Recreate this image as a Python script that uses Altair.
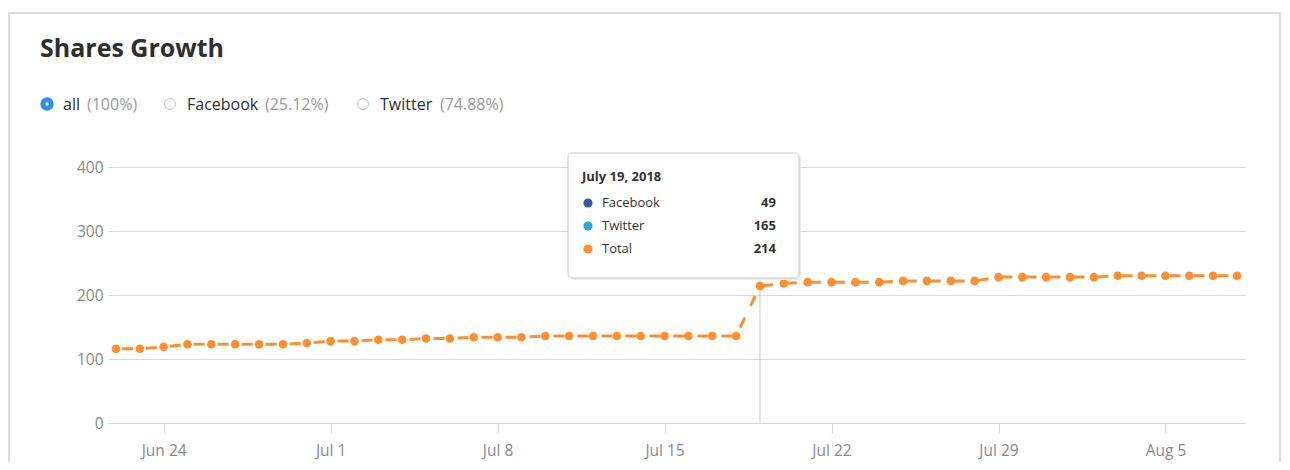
import altair as alt
import pandas as pd

# ---------------- data ----------------
start_date = "2018-06-22"
end_date = "2018-08-08"
total_shares = [116, 116, 119, 123, 123, 123, 123, 123, 125, 128, 128, 130, 130, 132, 132, 134, 134, 134,
                136, 136, 136, 136, 136, 136, 136, 136, 136,
                214, 218, 220, 220, 220, 220, 222, 222, 222, 222,
                228, 228, 228, 228, 228, 230, 230, 230, 230, 230, 230]
tick_dates = ["2018-06-24", "2018-07-01", "2018-07-08", "2018-07-15",
              "2018-07-22", "2018-07-29", "2018-08-05"]
y_ticks = [0, 100, 200, 300, 400]

hover_date = "2018-07-19"
tip_series = ["Facebook", "Twitter", "Total"]
tip_values = [49, 165, 214]
tip_colors = ["#3b5998", "#2aa7e0", "#ff8f2e"]

legend_items = ["all", "Facebook", "Twitter"]
legend_pcts = ["(100%)", "(25.12%)", "(74.88%)"]
title_text = "Shares Growth"

# ---------------- style ----------------
ORANGE = "#ff8f2e"
FONT = "Open Sans"
W, H = 1137, 256
PAD = {"left": 100, "top": 159, "right": 37, "bottom": 39}

dates = [d.strftime("%Y-%m-%dT00:00:00") for d in pd.date_range(start_date, end_date, freq="D")]
df = pd.DataFrame({"date": dates, "total": total_shares})


def dt(s, h=0):
    y, m, d = (int(p) for p in s[:10].split("-"))
    return alt.DateTime(year=y, month=m, date=d, hours=h)


x_scale = alt.Scale(domain=[dt("2018-06-21", 16), dt("2018-08-08", 8)], nice=False)
x_axis = alt.Axis(values=[dt(s) for s in tick_dates], format="%b %-d", title=None,
                  grid=False, domainColor="#d6d6d6", tickColor="#d6d6d6", tickSize=10,
                  labelFont=FONT, labelFontSize=15.5, labelColor="#8a8a8a", labelPadding=10,
                  labelFlush=False)
y_scale = alt.Scale(domain=[0, 400], nice=False)
y_axis = alt.Axis(values=y_ticks, title=None, domain=False, ticks=False,
                  gridColor="#dadada", labelFont=FONT, labelFontSize=15.5,
                  labelColor="#8a8a8a", labelPadding=5)

X = alt.X("date:T", scale=x_scale, axis=x_axis)

base = alt.Chart(df).encode(x=X, y=alt.Y("total:Q", scale=y_scale, axis=y_axis))

line = base.mark_line(color=ORANGE, strokeWidth=3, strokeDash=[11, 13], strokeDashOffset=18)
points = base.mark_circle(color=ORANGE, size=75, opacity=1)

hover_df = pd.DataFrame({"date": [hover_date + "T00:00:00"]})
hover = alt.Chart(hover_df)
rule = hover.mark_rule(color="#cccccc", strokeWidth=1).encode(
    x=X, y=alt.value(0), y2=alt.value(H))

tip_shadow = hover.mark_rect(fill="#ececec", xOffset=-190, x2Offset=41, yOffset=0,
                             cornerRadius=4).encode(
    x=X, x2="date:T", y=alt.value(-12), y2=alt.value(113))
tip_box = hover.mark_rect(fill="white", stroke="#c8c8c8", strokeWidth=1, xOffset=-192,
                          x2Offset=39, cornerRadius=4).encode(
    x=X, x2="date:T", y=alt.value(-14), y2=alt.value(111))
tip_title = hover.mark_text(align="left", baseline="middle", dx=-178, font=FONT,
                            fontSize=13, fontWeight="bold", color="#333333").encode(
    x=X, y=alt.value(10), text=alt.Text("date:T", format="%B %-d, %Y"))

tip_layers = []
for i, (s, v, c) in enumerate(zip(tip_series, tip_values, tip_colors)):
    row = alt.Chart(pd.DataFrame({"date": [hover_date + "T00:00:00"], "series": [s], "value": [v]}))
    yy = 36 + 23 * i
    tip_layers.append(row.mark_circle(color=c, size=85, opacity=1, xOffset=-172).encode(
        x=X, y=alt.value(yy)))
    tip_layers.append(row.mark_text(align="left", baseline="middle", dx=-158, font=FONT,
                                    fontSize=13, color="#333333").encode(
        x=X, y=alt.value(yy), text="series:N"))
    tip_layers.append(row.mark_text(align="right", baseline="middle", dx=16, font=FONT,
                                    fontSize=13, fontWeight="bold", color="#333333").encode(
        x=X, y=alt.value(yy), text="value:Q"))

# ---------------- decorations (frame, title, radio legend) ----------------
one = alt.Chart(pd.DataFrame({"t": [title_text]}))
frame = one.mark_rect(filled=False, stroke="#dddddd", strokeWidth=2).encode(
    x=alt.value(-99), x2=alt.value(W + PAD["right"] - 2), y=alt.value(-154), y2=alt.value(H + 200))
title = one.mark_text(align="left", baseline="alphabetic", font=FONT, fontSize=25,
                      fontWeight="bold", color="#2e2e2e").encode(
    x=alt.value(-68), y=alt.value(-110), text="t:N")

legend_layers = []
radio_x = [-61, 62, 255]
name_x = [-45, 79, 272]
pct_x = [-21, 157, 332]
for i, (name, pct) in enumerate(zip(legend_items, legend_pcts)):
    d = alt.Chart(pd.DataFrame({"name": [name], "pct": [pct]}))
    if i == 0:
        legend_layers.append(d.mark_point(shape="circle", filled=False, color="#2d8fe8",
                                          strokeWidth=5, size=70, opacity=1).encode(
            x=alt.value(radio_x[i]), y=alt.value(-63)))
    else:
        legend_layers.append(d.mark_point(shape="circle", filled=False, color="#c4c4c4",
                                          strokeWidth=1, size=120, opacity=1).encode(
            x=alt.value(radio_x[i]), y=alt.value(-63)))
    legend_layers.append(d.mark_text(align="left", baseline="middle", font=FONT, fontSize=16,
                                     color="#2e2e2e").encode(
        x=alt.value(name_x[i]), y=alt.value(-62), text="name:N"))
    legend_layers.append(d.mark_text(align="left", baseline="middle", font=FONT, fontSize=16,
                                     color="#9a9a9a").encode(
        x=alt.value(pct_x[i]), y=alt.value(-62), text="pct:N"))

chart = alt.layer(
    frame, title, *legend_layers, rule, line, points, tip_shadow, tip_box, tip_title, *tip_layers
).properties(
    width=W, height=H, padding=PAD, autosize=alt.AutoSizeParams(type="none"),
    background="white"
).configure_view(stroke=None)

chart.save("out.html", embed_options={"renderer": "svg", "actions": False})
